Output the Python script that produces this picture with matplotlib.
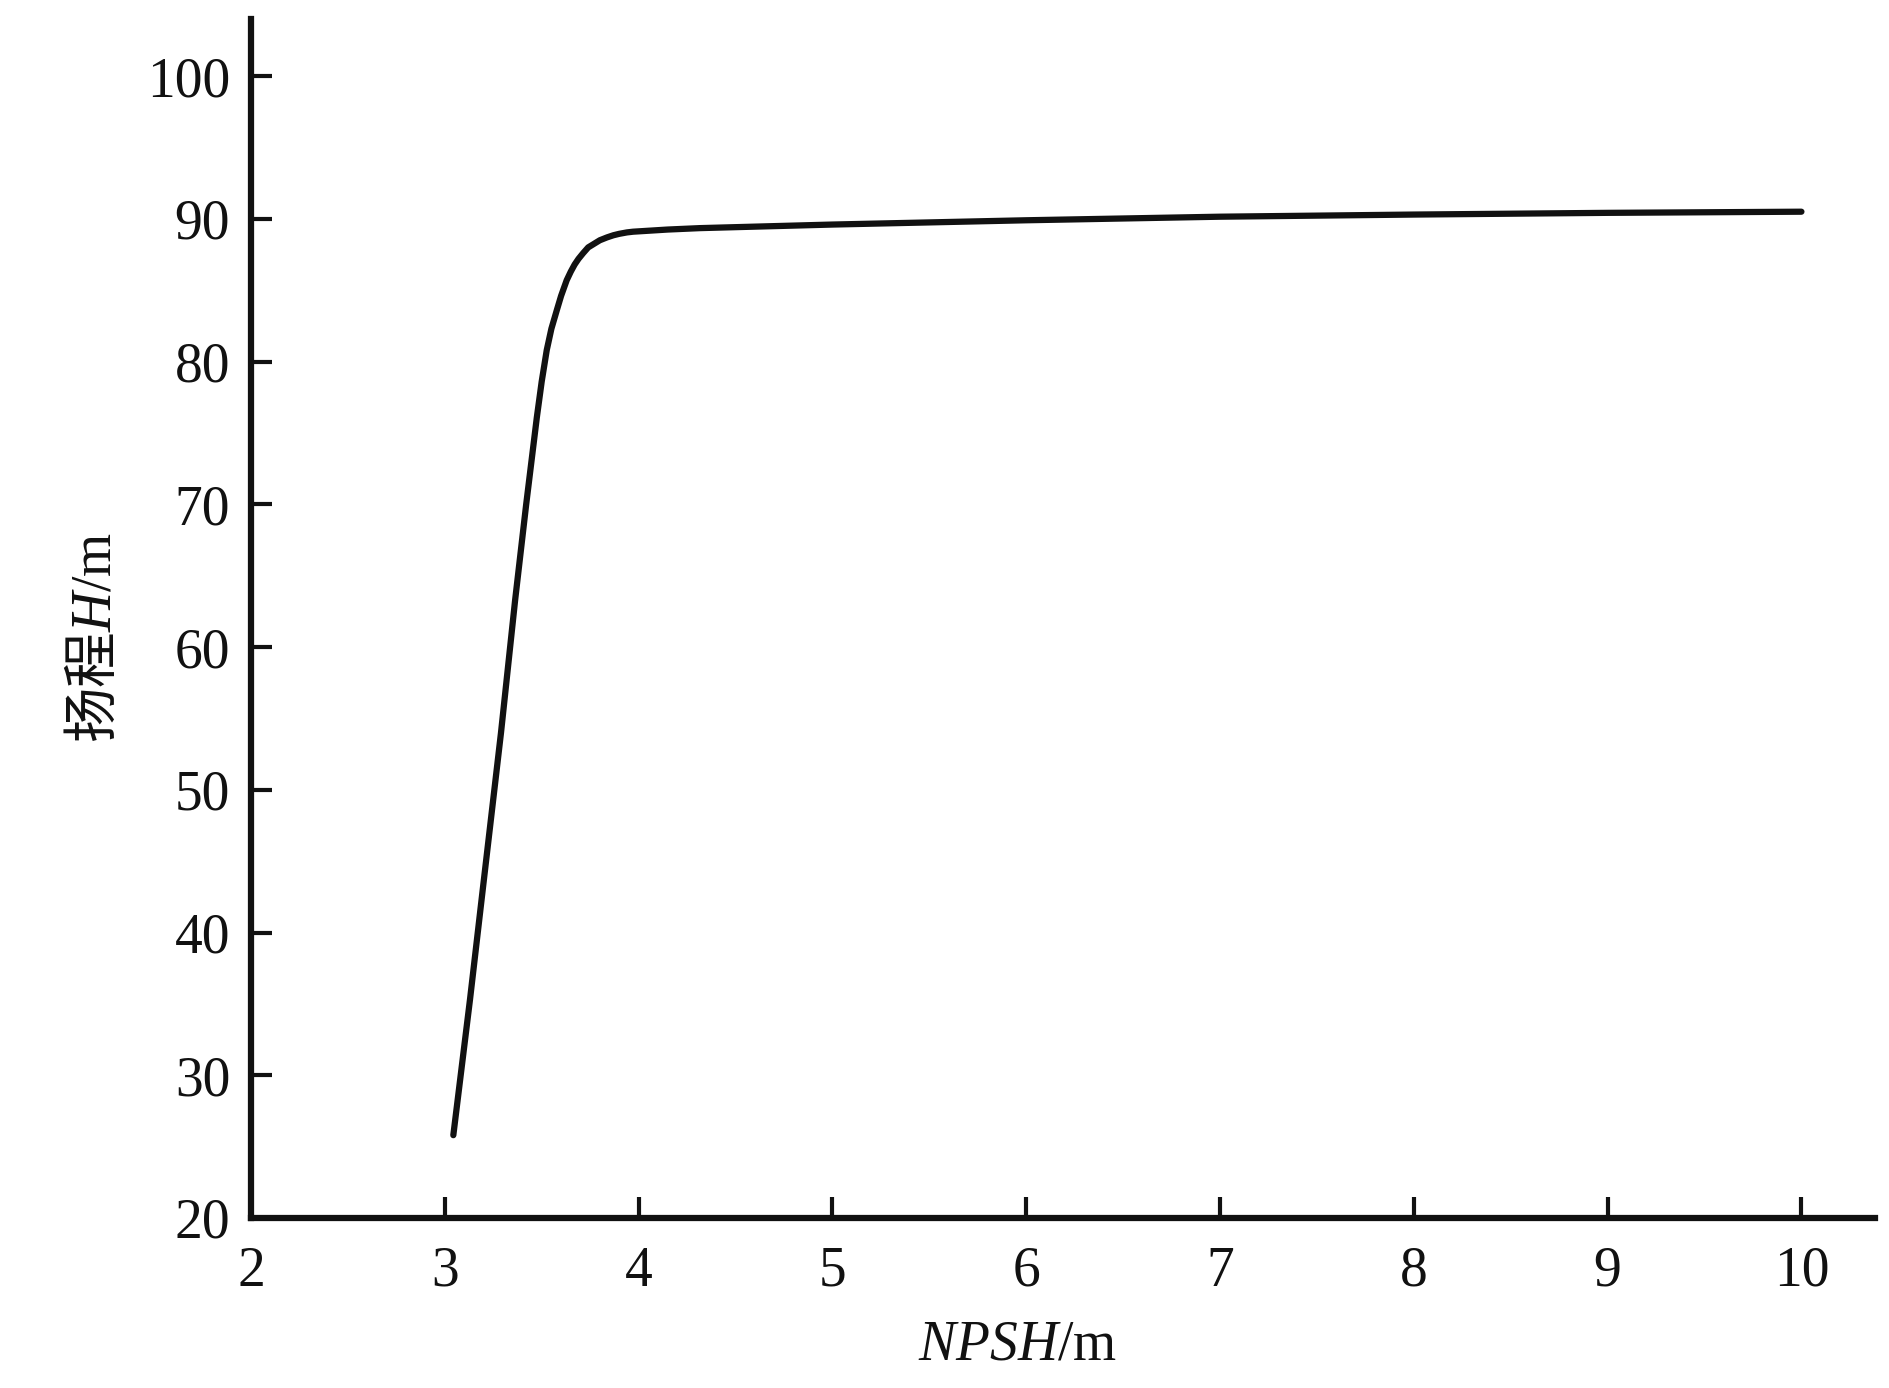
import matplotlib
matplotlib.use("Agg")
import matplotlib.pyplot as plt

plt.rcParams['font.family'] = ['Liberation Serif', 'Noto Sans CJK SC']
plt.rcParams['mathtext.fontset'] = 'custom'
plt.rcParams['mathtext.rm'] = 'Liberation Serif'
plt.rcParams['mathtext.it'] = 'Liberation Serif:italic'

# NPSH (m) vs head H (m)
npsh = [3.044, 3.13, 3.20, 3.29, 3.363, 3.42, 3.475, 3.50, 3.526, 3.55,
        3.578, 3.60, 3.629, 3.65, 3.67, 3.69, 3.714, 3.74, 3.77, 3.80,
        3.837, 3.87, 3.90, 3.94, 3.972, 4.15, 4.317,
        5.0, 6.0, 7.0, 8.0, 9.0, 10.0]
head = [25.8, 35.3, 43.5, 54.0, 63.3, 70.0, 76.1, 78.6, 80.8, 82.3,
        83.6, 84.6, 85.7, 86.3, 86.8, 87.2, 87.6, 88.0, 88.25, 88.5,
        88.7, 88.85, 88.95, 89.05, 89.1, 89.25, 89.35,
        89.6, 89.9, 90.15, 90.3, 90.42, 90.5]

xticks = [2, 3, 4, 5, 6, 7, 8, 9, 10]
yticks = [20, 30, 40, 50, 60, 70, 80, 90, 100]

fig = plt.figure(figsize=(18.9, 13.88), dpi=100)
ax = fig.add_axes([0.1328, 0.1225, 0.8593, 0.8638])

ax.plot(npsh, head, color='#111111', linewidth=4.5, solid_capstyle='round',
        solid_joinstyle='round')

ax.set_xlim(2, 10.38)
ax.set_ylim(20, 104)
ax.set_xticks(xticks)
ax.set_yticks(yticks)

for side in ['top', 'right']:
    ax.spines[side].set_visible(False)
for side in ['left', 'bottom']:
    ax.spines[side].set_linewidth(4.5)
    ax.spines[side].set_color('#111111')

ax.tick_params(axis='both', direction='in', length=15, width=3,
               color='#111111', labelsize=40, labelcolor='#111111')
ax.tick_params(axis='x', pad=20)
ax.tick_params(axis='y', pad=15)

ax.set_xlabel(r'$\mathit{NPSH}$/m', fontsize=40, color='#111111',
              va='top', ha='center')
ax.xaxis.set_label_coords(0.472, -0.085)
ax.set_ylabel(r'扬程$\mathit{H}\mathrm{/m}$', fontsize=40, color='#111111',
              fontfamily='Noto Sans CJK SC')
ax.yaxis.set_label_coords(-0.078, 0.484)

fig.savefig('out.png', dpi=100, facecolor='white')
